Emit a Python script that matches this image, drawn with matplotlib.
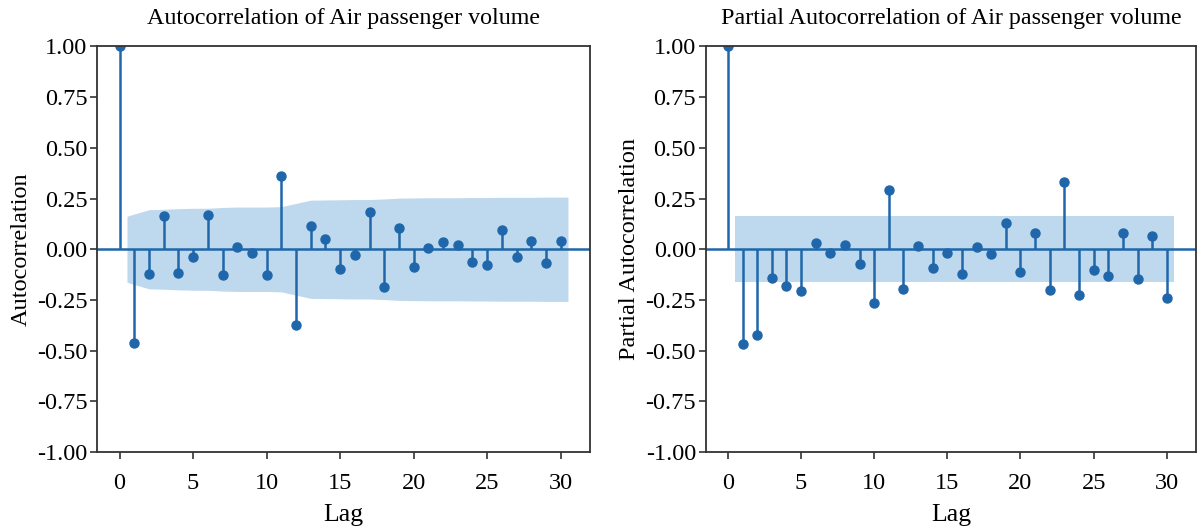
import matplotlib
matplotlib.use("Agg")
import matplotlib.pyplot as plt
import numpy as np

plt.rcParams['font.family'] = ['Liberation Serif', 'DejaVu Serif']

lags = np.arange(31)

acf_vals = [1.0, -0.461, -0.123, 0.166, -0.117, -0.036, 0.168, -0.128, 0.013, -0.020,
            -0.128, 0.362, -0.372, 0.117, 0.051, -0.095, -0.030, 0.183, -0.188, 0.107,
            -0.086, 0.007, 0.036, 0.021, -0.063, -0.079, 0.095, -0.036, 0.039, -0.067,
            0.039]
# half-width of the 95% band for lags 1..30
acf_band = [0.163, 0.195, 0.197, 0.200, 0.202, 0.202, 0.206, 0.208, 0.208, 0.208,
            0.210, 0.226, 0.242, 0.243, 0.244, 0.245, 0.245, 0.248, 0.252, 0.253,
            0.254, 0.254, 0.254, 0.255, 0.255, 0.256, 0.256, 0.256, 0.257, 0.257]

pacf_vals = [1.0, -0.466, -0.421, -0.143, -0.183, -0.204, 0.031, -0.018, 0.023, -0.072,
             -0.265, 0.291, -0.194, 0.015, -0.090, -0.020, -0.123, 0.013, -0.025, 0.128,
             -0.110, 0.079, -0.199, 0.334, -0.227, -0.100, -0.133, 0.079, -0.145, 0.063,
             -0.242]
pacf_band = [0.163] * 30

titles = ["Autocorrelation of Air passenger volume",
          "Partial Autocorrelation of Air passenger volume"]
ylabels = ["Autocorrelation", "Partial Autocorrelation"]

color = "#1f67aa"

fig = plt.figure(figsize=(12, 5.27), dpi=100)
ax1 = fig.add_axes([0.081, 0.142, 0.411, 0.770])
ax2 = fig.add_axes([0.588, 0.142, 0.409, 0.770])


def draw(ax, vals, band, title, ylabel):
    vals = np.array(vals)
    band = np.array(band)
    bx = lags[1:].astype(float)
    bx[0] -= 0.5
    bx[-1] += 0.5
    ax.fill_between(bx, -band, band, color="#a9cbe9", alpha=0.75, lw=0)
    ax.axhline(0, color=color, lw=1.8)
    ax.vlines(lags, 0, vals, color=color, lw=1.8)
    ax.plot(lags, vals, 'o', color=color, markersize=6.5)
    ax.set_xlim(-1.525, 32.025)
    ax.set_ylim(-1, 1)
    ax.set_xticks([0, 5, 10, 15, 20, 25, 30])
    ax.set_yticks(np.arange(-1, 1.01, 0.25))
    ax.set_yticklabels(["%.2f" % v for v in np.arange(-1, 1.01, 0.25)])
    ax.tick_params(labelsize=17.5, length=5, width=1.2, color="#333333")
    ax.tick_params(axis='y', pad=2)
    ax.tick_params(axis='x', pad=10)
    for s in ax.spines.values():
        s.set_color("#333333")
        s.set_linewidth(1.3)
    ax.set_title(title, fontsize=17.3, pad=16)
    ax.set_xlabel("Lag", fontsize=18.5, labelpad=7)
    ax.set_ylabel(ylabel, fontsize=17.5)


draw(ax1, acf_vals, acf_band, titles[0], ylabels[0])
draw(ax2, pacf_vals, pacf_band, titles[1], ylabels[1])

fig.savefig("out.png", dpi=100)
